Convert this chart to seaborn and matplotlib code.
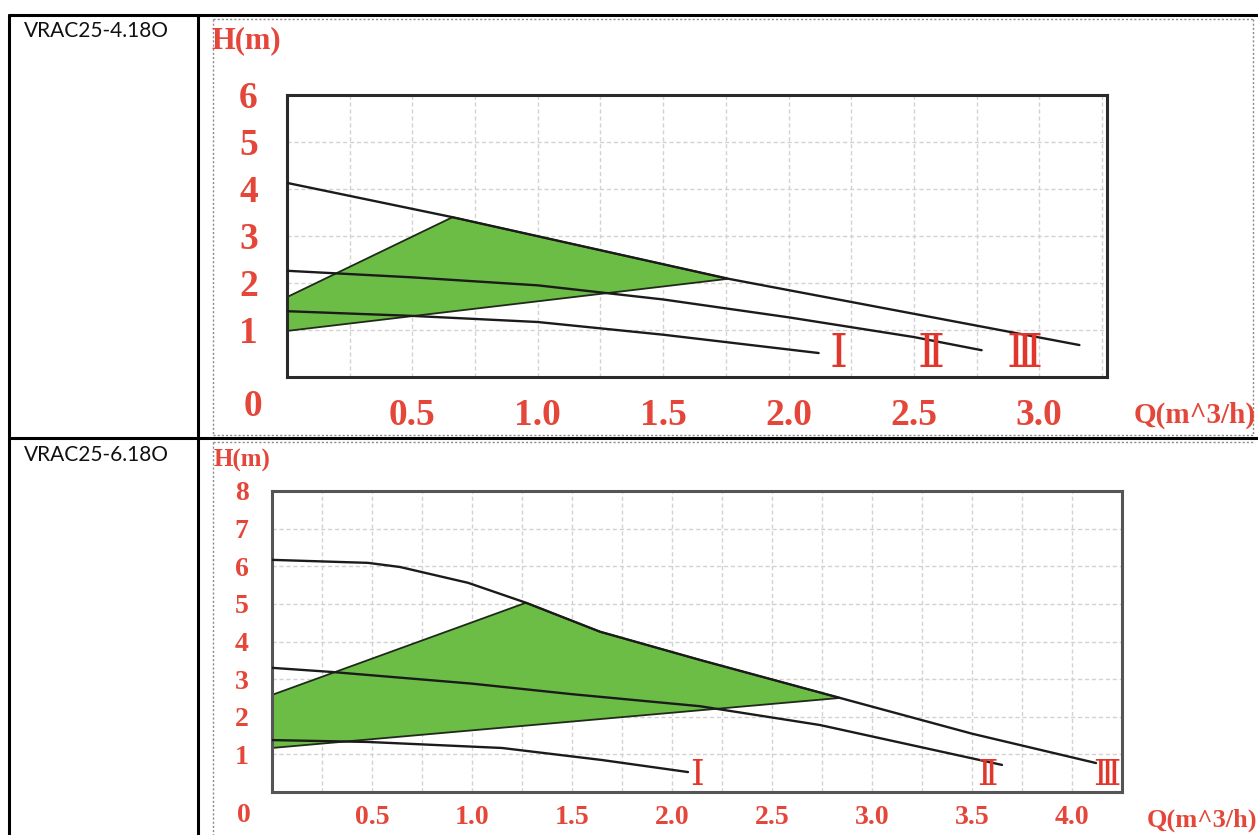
import numpy as np
import pandas as pd
import matplotlib
matplotlib.use("Agg")
import matplotlib.pyplot as plt
from matplotlib.lines import Line2D
import seaborn as sns

W, H = 1258, 835

# model names in the left column
models = ["VRAC25-4.18O", "VRAC25-6.18O"]

# chart 1 (VRAC25-4.18O): Q in m^3/h, H in m
q1_I = [0, 0.5, 1.0, 1.5, 2.12]
h1_I = [1.40, 1.30, 1.17, 0.90, 0.51]
q1_II = [0, 0.5, 1.0, 1.5, 2.0, 2.5, 2.77]
h1_II = [2.26, 2.12, 1.95, 1.65, 1.27, 0.85, 0.57]
q1_III = [0, 0.66, 1.76, 3.16]
h1_III = [4.13, 3.40, 2.09, 0.68]
zone1_q = [0, 0.66, 1.76, 0]
zone1_h = [1.70, 3.40, 2.09, 0.98]
q1_ticks = [0.5, 1.0, 1.5, 2.0, 2.5, 3.0]
q1_labels = ["0.5", "1.0", "1.5", "2.0", "2.5", "3.0"]
h1_ticks = [1, 2, 3, 4, 5, 6]
speed1_pos = [2.20, 2.57, 2.94]

# chart 2 (VRAC25-6.18O)
q2_I = [0, 0.48, 1.15, 1.65, 2.08]
h2_I = [1.38, 1.33, 1.17, 0.85, 0.53]
q2_II = [0, 0.3, 1.0, 1.5, 2.14, 2.74, 3.65]
h2_II = [3.30, 3.19, 2.88, 2.60, 2.28, 1.78, 0.72]
q2_III = [0, 0.48, 0.64, 0.98, 1.27, 1.64, 2.14, 2.84, 3.5, 4.12]
h2_III = [6.17, 6.09, 5.98, 5.56, 5.03, 4.26, 3.51, 2.50, 1.55, 0.77]
zone2_q = [0, 1.27, 1.64, 2.14, 2.84, 0]
zone2_h = [2.58, 5.03, 4.26, 3.51, 2.50, 1.17]
q2_ticks = [0.5, 1.0, 1.5, 2.0, 2.5, 3.0, 3.5, 4.0]
q2_labels = ["0.5", "1.0", "1.5", "2.0", "2.5", "3.0", "3.5", "4.0"]
h2_ticks = [1, 2, 3, 4, 5, 6, 7, 8]
speed2_pos = [2.125, 3.575, 4.175]

speeds = ["Ⅰ", "Ⅱ", "Ⅲ"]

RED = "#e4473a"
GREEN = "#6cbd45"

sns.set_theme(style="white")
plt.rcParams["font.family"] = ["Liberation Serif", "DejaVu Serif"]


def px(x):
    return x / W


def py(y):
    return 1 - y / H


def curves_frame(curves):
    rows = []
    for name, (qs, hs) in curves.items():
        for q, h in zip(qs, hs):
            rows.append({"speed": name, "Q": q, "H": h})
    return pd.DataFrame(rows)


def draw_chart(ax, df, zone_q, zone_h, xlim, ylim, q_ticks, q_labels, h_ticks,
               label_pos, fs, rn_fs, tick_len, xpad, ypad, spine_col):
    ax.fill(zone_q, zone_h, color=GREEN, ec="#1f2a1a", lw=1.3, zorder=2)
    sns.lineplot(data=df, x="Q", y="H", units="speed", estimator=None, sort=False,
                 color="#1b1b1b", lw=1.7, ax=ax, zorder=3)
    ax.set_xlim(*xlim)
    ax.set_ylim(*ylim)
    ax.set_xticks(q_ticks)
    ax.set_xticklabels(q_labels)
    ax.set_xticks(np.arange(0.25, xlim[1], 0.25), minor=True)
    ax.set_yticks(h_ticks)
    ax.set_yticklabels([str(t) for t in h_ticks])
    ax.tick_params(axis="x", which="major", length=tick_len, width=2.2,
                   color="#555555", direction="out", pad=xpad, labelsize=fs,
                   labelcolor=RED)
    ax.tick_params(axis="x", which="minor", length=0)
    ax.tick_params(axis="y", length=0, pad=ypad, labelsize=fs, labelcolor=RED)
    for lab in ax.get_xticklabels() + ax.get_yticklabels():
        lab.set_fontweight("bold")
    ax.grid(which="both", axis="x", color="#d2d2d2", ls=(0, (3, 2)), lw=1)
    ax.grid(which="major", axis="y", color="#d2d2d2", ls=(0, (3, 2)), lw=1)
    ax.set_axisbelow(True)
    for s in ax.spines.values():
        s.set_color(spine_col)
        s.set_linewidth(2.2)
    ax.set_xlabel("")
    ax.set_ylabel("")
    for txt, q in zip(speeds, label_pos):
        ax.text(q, 0.0, txt, color="#e0362b", fontsize=rn_fs, ha="center",
                va="bottom", family=["DejaVu Serif", "DejaVu Sans"], zorder=4)


fig = plt.figure(figsize=(W / 100, H / 100), dpi=100)
fig.patch.set_facecolor("white")

# chart 1
ax1 = fig.add_axes([px(287), py(377), px(1107 - 287), (377 - 95) / H])
df1 = curves_frame({"I": (q1_I, h1_I), "II": (q1_II, h1_II), "III": (q1_III, h1_III)})
draw_chart(ax1, df1, zone1_q, zone1_h, (0, 3.27), (0, 6), q1_ticks, q1_labels,
           h1_ticks, speed1_pos, 27, 33, 11, 4, 21, "#2a2a2a")

# chart 2
ax2 = fig.add_axes([px(272), py(792), px(1122 - 272), (792 - 491) / H])
df2 = curves_frame({"I": (q2_I, h2_I), "II": (q2_II, h2_II), "III": (q2_III, h2_III)})
draw_chart(ax2, df2, zone2_q, zone2_h, (0, 4.25), (0, 8), q2_ticks, q2_labels,
           h2_ticks, speed2_pos, 20, 25, 8, 1, 17, "#555555")

# axis captions
fig.text(px(212), py(41), "H(m)", color=RED, fontsize=22, fontweight="bold",
         ha="left", va="center")
fig.text(px(214), py(460), "H(m)", color=RED, fontsize=18, fontweight="bold",
         ha="left", va="center")
fig.text(px(1256), py(415), "Q(m^3/h)", color=RED, fontsize=21, fontweight="bold",
         ha="right", va="center")
fig.text(px(1257), py(820), "Q(m^3/h)", color=RED, fontsize=19, fontweight="bold",
         ha="right", va="center")
fig.text(px(253), py(407), "0", color=RED, fontsize=27, fontweight="bold",
         ha="center", va="center")
fig.text(px(244), py(816), "0", color=RED, fontsize=20, fontweight="bold",
         ha="center", va="center")

# table frame
lk = dict(color="black", lw=2.2, transform=fig.transFigure)
fig.add_artist(Line2D([px(9), px(1258)], [py(15), py(15)], **lk))
fig.add_artist(Line2D([px(9), px(1258)], [py(438), py(438)], **lk))
fig.add_artist(Line2D([px(9), px(9)], [py(15), py(835)], **lk))
fig.add_artist(Line2D([px(198), px(198)], [py(15), py(835)], **lk))

# dotted picture borders
dk = dict(color="#8a8a8a", lw=1, ls=(0, (1.5, 1.5)), transform=fig.transFigure)
fig.add_artist(Line2D([px(213), px(213)], [py(19), py(435)], **dk))
fig.add_artist(Line2D([px(213), px(1253)], [py(19), py(19)], **dk))
fig.add_artist(Line2D([px(213), px(1253)], [py(435), py(435)], **dk))
fig.add_artist(Line2D([px(1253), px(1253)], [py(19), py(435)], **dk))
fig.add_artist(Line2D([px(213), px(213)], [py(442), py(835)], **dk))
fig.add_artist(Line2D([px(213), px(1253)], [py(442), py(442)], **dk))

# model names
for name, y in zip(models, [31, 455]):
    fig.text(px(24), py(y), name, fontsize=15, ha="left", va="center",
             family=["Lato", "DejaVu Sans"], color="#111111")

fig.savefig("out.png", dpi=100, facecolor="white")
